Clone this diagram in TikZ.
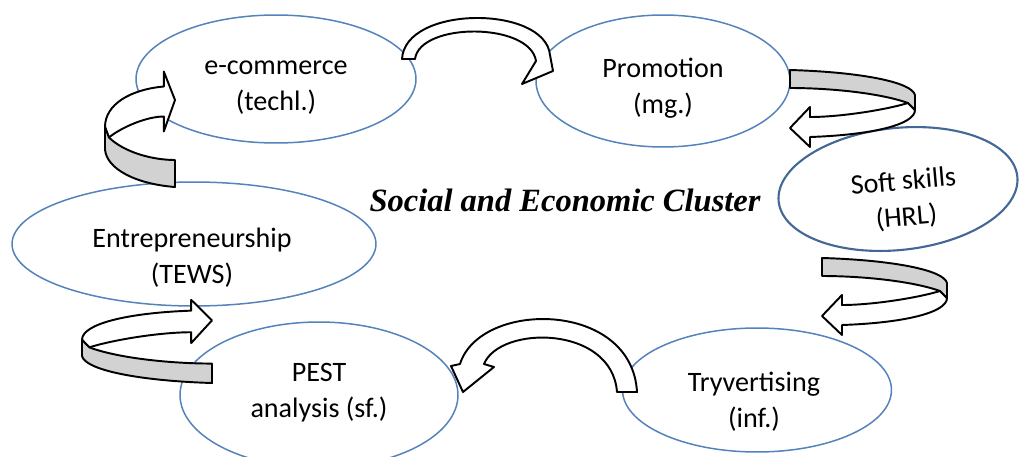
\documentclass[tikz,border=0pt]{standalone}
\usepackage{fontspec}
\setmainfont{Carlito}
\newfontfamily\clusterfont{Liberation Serif}
\usetikzlibrary{shapes.geometric}
\definecolor{cellblue}{RGB}{84,130,187}
\definecolor{bandgray}{RGB}{210,210,210}
\tikzset{
  cell/.style={ellipse, draw=cellblue, line width=0.85pt, inner sep=0pt},
  celltext/.style={align=center, font=\fontsize{16}{20.5}\selectfont},
  band/.style={draw=black, line width=1.1pt, line join=round},
  % twisted band that curls back into an arrow
  ribbon/.pic={
    \draw[band, fill=white] (118,33) .. controls (95,40) and (50,47) .. (20,47)
      -- (20,37) -- (0,58) -- (20,77) -- (20,67)
      .. controls (80,65) and (125,55) .. (125,40) -- cycle;
    \draw[band, fill=bandgray] (0,0) .. controls (70,2) and (122,12) .. (125,25)
      -- (125,40) -- (118,33) .. controls (90,23) and (40,18) .. (0,18) -- cycle;
  }
}

\begin{document}
\begin{tikzpicture}[x=0.02cm, y=-0.02cm]
    \useasboundingbox (0,0) rectangle (1019,457);

    % Ellipses
    \node[cell, minimum width=5.6cm, minimum height=2.56cm] (ecom) at (276,79) {};
    \node[cell, minimum width=5.08cm, minimum height=2.64cm] (promo) at (663,81) {};
    \node[cell, draw=cellblue!80!black, line width=1.2pt, minimum width=4.8cm, minimum height=2.44cm, rotate=6] (soft) at (898,189) {};
    \node[cell, minimum width=7.28cm, minimum height=2.48cm] (entre) at (194,244) {};
    \node[cell, minimum width=5.56cm, minimum height=2.92cm] (pest) at (319,395) {};
    \node[cell, minimum width=5.38cm, minimum height=2.48cm] (tryv) at (757,390) {};

    % Labels
    \node[celltext] (ecom-t) at (276,88) {e-commerce\\(techl.)};
    \node[celltext] (promo-t) at (663,88) {Promotion\\(mg.)};
    \node[celltext, rotate=5] (soft-t) at (905,200) {Soft skills\\(HRL)};
    \node[celltext] (entre-t) at (192,258) {Entrepreneurship\\(TEWS)};
    \node[celltext] (pest-t) at (319,393) {PEST\\analysis (sf.)};
    \node[celltext] (tryv-t) at (754,402) {Tryvertising\\(inf.)};

    \node[font=\clusterfont\bfseries\itshape\fontsize{18.5}{22}\selectfont] (title) at (565,200) {Social and Economic Cluster};

    % Flat curved arrows
    \draw[band, fill=white] (402,59) .. controls (405,5) and (545,5) .. (550,55)
        -- (553,71) -- (522,84) -- (536,61)
        .. controls (530,22) and (420,22) .. (415,59) -- cycle;
    \draw[band, fill=white] (637,392) .. controls (632,300) and (480,300) .. (460,364)
        -- (451,366) -- (463,392) -- (494,367) -- (484,364)
        .. controls (500,325) and (612,325) .. (617,392) -- cycle;

    % Twisted arrows
    \pic at (790,70) {ribbon};
    \pic at (822,258) {ribbon};
    \pic[xscale=-1.04, yscale=-1.08] at (212,383) {ribbon};
    \pic[xscale=-0.56, yscale=-1.5] at (175,187) {ribbon};
\end{tikzpicture}
\end{document}
